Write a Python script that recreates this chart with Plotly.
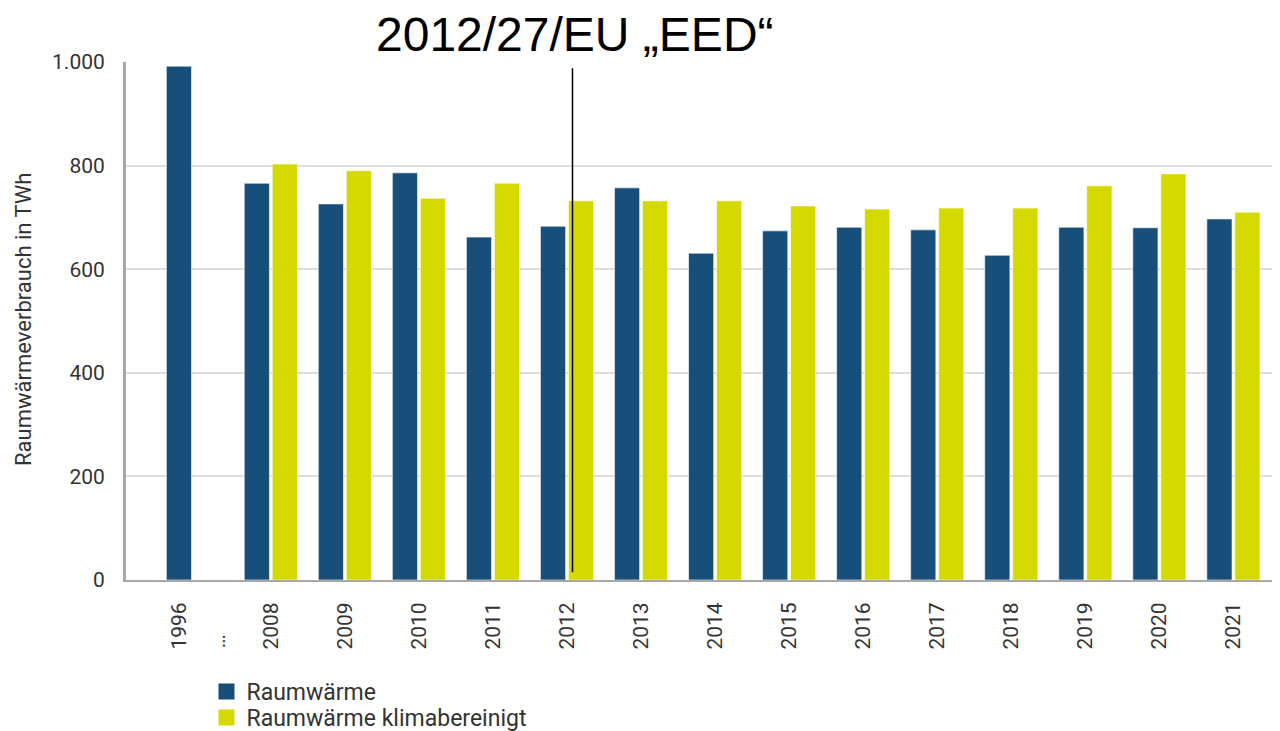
import plotly.graph_objects as go

# ---- data ----
years = ["1996", "2008", "2009", "2010", "2011", "2012", "2013", "2014",
         "2015", "2016", "2017", "2018", "2019", "2020", "2021"]
raumwaerme = [992, 766, 726, 786, 662, 683, 757, 631, 674, 681, 676, 627, 681, 680, 697]
raumwaerme_klima = [None, 803, 790, 737, 766, 732, 732, 732, 722, 716, 718, 718, 761, 784, 710]
y_ticks = [0, 200, 400, 600, 800, 1000]
y_tick_labels = ["0", "200", "400", "600", "800", "1.000"]
marker_year = "2012"
series_names = ["Raumwärme", "Raumwärme klimabereinigt"]

# ---- layout helpers ----
# 1996 is separated from the rest by a small gap (the "…" break)
pos = [0.0] + [1.24 + i for i in range(len(years) - 1)]
BW = 0.34
BLUE = "#184f7a"
YELLOW = "#d4d900"
FONT = "Roboto"
PAGE_OFF = 8  # default body margin of the html page

fig = go.Figure()
fig.add_trace(go.Bar(
    x=pos, y=raumwaerme, name=series_names[0], showlegend=False,
    width=BW, offset=[-BW / 2] + [-0.358] * (len(years) - 1),
    marker=dict(color=BLUE, line=dict(color="rgba(255,255,255,0.6)", width=1)),
))
fig.add_trace(go.Bar(
    x=pos[1:], y=raumwaerme_klima[1:], name=series_names[1], showlegend=False,
    width=BW, offset=0.02,
    marker=dict(color=YELLOW, line=dict(color="rgba(255,255,255,0.6)", width=1)),
))
# legend entries with larger square swatches (one legend box per entry for tight spacing)
for name, col, lg in zip(series_names, [BLUE, YELLOW], ["legend", "legend2"]):
    fig.add_trace(go.Scatter(x=[None], y=[None], mode="markers", name=name, legend=lg,
                             marker=dict(symbol="square", size=16, color=col)))

xm = pos[years.index(marker_year)] + 0.075
fig.add_shape(type="line", xref="x", yref="y", x0=xm, x1=xm, y0=15, y1=988,
              line=dict(color="black", width=1.5))

fig.add_annotation(text="2012/27/EU „EED“", xref="paper", yref="paper",
                   x=(575 - 126) / 1154, y=1 + 28 / 518, xanchor="center", yanchor="middle",
                   showarrow=False, font=dict(family="Liberation Sans", size=48, color="black"))

fig.add_annotation(text="Raumwärmeverbrauch in TWh", xref="paper", yref="paper",
                   x=(23.5 - 126) / 1154, y=0.503, textangle=-90,
                   xanchor="center", yanchor="middle", showarrow=False,
                   font=dict(family=FONT, size=22, color="#333333"))

fig.add_annotation(text="…", xref="x", yref="paper", x=0.53, y=-(641 - 580) / 518,
                   textangle=-90, xanchor="center", yanchor="middle", showarrow=False,
                   font=dict(family=FONT, size=21, color="#333333"))

legend_style = dict(xanchor="left", yanchor="top", orientation="v",
                    font=dict(family=FONT, size=23, color="#333333"),
                    bgcolor="rgba(0,0,0,0)")
fig.update_layout(
    width=1280 - PAGE_OFF, height=731 - PAGE_OFF,
    margin=dict(l=126 - PAGE_OFF, r=0, t=62 - PAGE_OFF, b=151, autoexpand=False),
    paper_bgcolor="white", plot_bgcolor="white",
    barmode="overlay",
    separators=",.",
    font=dict(family=FONT, size=21, color="#333333"),
    showlegend=True,
    legend=dict(x=(206.5 - 126) / 1154, y=-(670 - 580) / 518, **legend_style),
    legend2=dict(x=(206.5 - 126) / 1154, y=-(696 - 580) / 518, **legend_style),
    hovermode=False,
)
fig.update_xaxes(
    range=[-0.715, pos[-1] + 0.63],
    tickmode="array", tickvals=pos, ticktext=years, tickangle=-90,
    tickfont=dict(family=FONT, size=21, color="#333333"),
    ticks="outside", ticklen=12, tickcolor="rgba(0,0,0,0)",
    showgrid=False, zeroline=False,
    showline=True, linecolor="#a8a8a8", linewidth=2,
)
fig.update_yaxes(
    range=[0, 1000],
    tickmode="array", tickvals=y_ticks, ticktext=y_tick_labels,
    tickfont=dict(family=FONT, size=21, color="#333333"),
    ticks="outside", ticklen=14, tickcolor="rgba(0,0,0,0)",
    showgrid=True, gridcolor="#dedede", gridwidth=1.5,
    zeroline=False,
    showline=True, linecolor="#a8a8a8", linewidth=3,
)

fig.write_html("out.html")
